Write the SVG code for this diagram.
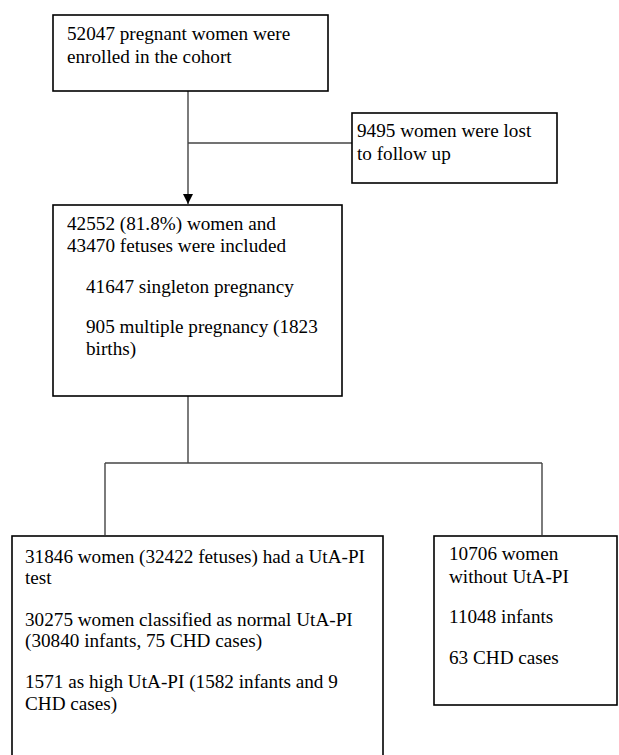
<svg xmlns="http://www.w3.org/2000/svg" width="619" height="755" viewBox="0 0 619 755">
<style>
.box{fill:#fff;stroke:#000;stroke-width:1.6}
.t{font-family:"Liberation Serif","Times New Roman",serif;font-size:19.2px;fill:#000}
.c{fill:none;stroke:#444;stroke-width:1.4}
</style>
<defs>
<marker id="arr" markerWidth="10" markerHeight="10" refX="10" refY="5" orient="auto" markerUnits="userSpaceOnUse">
<path d="M0,0 L10,5 L0,10 Z" fill="#000"/>
</marker>
</defs>
<rect width="619" height="755" fill="#fff"/>
<g id="connectors">
<line class="c" x1="188" y1="91" x2="188" y2="204" marker-end="url(#arr)"/>
<line class="c" x1="188" y1="143" x2="352" y2="143"/>
<line class="c" x1="188" y1="396" x2="188" y2="463"/>
<line class="c" x1="105" y1="463" x2="542" y2="463"/>
<line class="c" x1="105" y1="463" x2="105" y2="535"/>
<line class="c" x1="542" y1="463" x2="542" y2="535"/>
</g>
<g id="enrolled">
<rect class="box" x="53" y="15" width="275" height="76"/>
<text class="t" x="67" y="40">52047 pregnant women were</text>
<text class="t" x="67" y="63">enrolled in the cohort</text>
</g>
<g id="lost">
<rect class="box" x="352" y="113" width="205" height="70"/>
<text class="t" x="357" y="137">9495 women were lost</text>
<text class="t" x="357" y="160">to follow up</text>
</g>
<g id="included">
<rect class="box" x="53" y="205" width="289" height="191"/>
<text class="t" x="67" y="230">42552 (81.8%) women and</text>
<text class="t" x="67" y="252">43470 fetuses were included</text>
<text class="t" x="86" y="293">41647 singleton pregnancy</text>
<text class="t" x="86" y="333">905 multiple pregnancy (1823</text>
<text class="t" x="86" y="355">births)</text>
</g>
<g id="utapi">
<rect class="box" x="12" y="536" width="371" height="240"/>
<text class="t" x="25" y="563">31846 women (32422 fetuses) had a UtA-PI</text>
<text class="t" x="25" y="584">test</text>
<text class="t" x="25" y="626">30275 women classified as normal UtA-PI</text>
<text class="t" x="25" y="647">(30840 infants, 75 CHD cases)</text>
<text class="t" x="25" y="688">1571 as high UtA-PI (1582 infants and 9</text>
<text class="t" x="25" y="710">CHD cases)</text>
</g>
<g id="no-utapi">
<rect class="box" x="434" y="536" width="183" height="169"/>
<text class="t" x="449" y="560">10706 women</text>
<text class="t" x="449" y="583">without UtA-PI</text>
<text class="t" x="449" y="623">11048 infants</text>
<text class="t" x="449" y="664">63 CHD cases</text>
</g>
</svg>
